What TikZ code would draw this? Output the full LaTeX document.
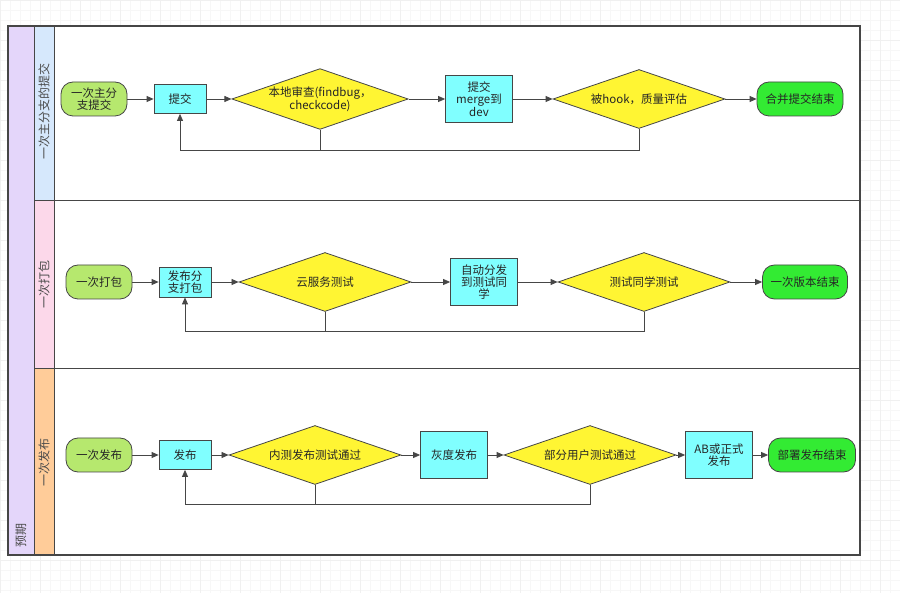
\documentclass[tikz,border=0pt]{standalone}
\usepackage{fontspec}
\setmainfont{Noto Sans CJK SC}
\usetikzlibrary{arrows.meta,shapes.geometric}
\definecolor{lanepurple}{RGB}{228,214,250}
\definecolor{laneblue}{RGB}{214,232,252}
\definecolor{lanepink}{RGB}{252,216,234}
\definecolor{laneorange}{RGB}{255,204,153}
\definecolor{startgreen}{RGB}{182,232,110}
\definecolor{endgreen}{RGB}{51,235,51}
\definecolor{proccyan}{RGB}{128,255,255}
\definecolor{decyellow}{RGB}{255,245,51}
\definecolor{linegray}{RGB}{70,70,70}
\begin{document}
\begin{tikzpicture}[x=1pt, y=-1pt, line join=miter,
                every node/.style={font=\fontsize{11.5}{12}\selectfont, text=black!85, align=center},
                startnode/.style={shape=rectangle, rounded corners=12pt, fill=startgreen, draw=linegray, line width=0.8pt, minimum width=66pt, minimum height=34pt, inner sep=1pt},
                endnode/.style={shape=rectangle, rounded corners=12pt, fill=endgreen, draw=linegray, line width=0.8pt, minimum height=34pt, inner sep=1pt},
                procnode/.style={shape=rectangle, fill=proccyan, draw=linegray, line width=0.8pt, inner sep=1pt},
                decnode/.style={shape=diamond, aspect=2.9, fill=decyellow, draw=linegray, line width=0.8pt, inner sep=0pt, minimum width=172pt, minimum height=59pt},
                flow/.style={draw=linegray, line width=0.8pt, -{Triangle[length=7pt,width=6pt]}},
                back/.style={draw=linegray, line width=0.8pt},
                lanetext/.style={rotate=90, font=\fontsize{12}{13}\selectfont, text=black!70}]
            \useasboundingbox (0,0) rectangle (900,593);
            % Grid
            \draw[black!3, line width=0.4pt] (0,0) grid[step=10pt] (900,593);
            \draw[black!6, line width=0.4pt] (0,0) grid[step=40pt] (900,593);
            % Lanes
            \filldraw[fill=white, draw=linegray, line width=1pt] (54,26) rectangle (860,555);
            \filldraw[fill=lanepurple, draw=linegray, line width=1pt] (8,26) rectangle (34,555);
            \filldraw[fill=laneblue, draw=linegray, line width=1pt] (34,26) rectangle (54,201);
            \filldraw[fill=lanepink, draw=linegray, line width=1pt] (34,201) rectangle (54,369);
            \filldraw[fill=laneorange, draw=linegray, line width=1pt] (34,369) rectangle (54,555);
            \draw[linegray, line width=1pt] (54,201) -- (860,201);
            \draw[linegray, line width=1pt] (54,369) -- (860,369);
            \draw[linegray, line width=1.6pt] (8,26) rectangle (860,555);
            \node[lanetext] (lanea) at (44,112) {一次主分支的提交};
            \node[lanetext] (laneb) at (44,285) {一次打包};
            \node[lanetext] (lanec) at (44,462) {一次发布};
            \node[lanetext] (laneall) at (21,535) {预期};

            % Lane 1
            \node[startnode] (sa) at (94,99) {一次主分\\支提交};
            \node[procnode, minimum width=52pt, minimum height=29pt] (pa) at (180,99) {提交};
            \node[decnode] (da) at (320,99) {本地审查(findbug，\\checkcode)};
            \node[procnode, minimum width=67pt, minimum height=47pt] (qa) at (479,99) {提交\\merge到\\dev};
            \node[decnode] (ea) at (639,99) {被hook，质量评估};
            \node[endnode, minimum width=86pt] (ta) at (800,99) {合并提交结束};
            \draw[flow] (sa) -- (pa);
            \draw[flow] (pa) -- (da);
            \draw[flow] (da) -- (qa);
            \draw[flow] (qa) -- (ea);
            \draw[flow] (ea) -- (ta);
            \draw[back] (da.south) -- (da.south |- 0,150);
            \draw[flow] (ea.south) -- (ea.south |- 0,150) -| (pa.south);

            % Lane 2
            \node[startnode] (sb) at (99,282) {一次打包};
            \node[procnode, minimum width=52pt, minimum height=30pt] (pb) at (185,282) {发布分\\支打包};
            \node[decnode] (db) at (325,282) {云服务测试};
            \node[procnode, minimum width=67pt, minimum height=47pt] (qb) at (484,282) {自动分发\\到测试同\\学};
            \node[decnode] (eb) at (644,282) {测试同学测试};
            \node[endnode, minimum width=85pt] (tb) at (805,282) {一次版本结束};
            \draw[flow] (sb) -- (pb);
            \draw[flow] (pb) -- (db);
            \draw[flow] (db) -- (qb);
            \draw[flow] (qb) -- (eb);
            \draw[flow] (eb) -- (tb);
            \draw[back] (db.south) -- (db.south |- 0,331);
            \draw[flow] (eb.south) -- (eb.south |- 0,331) -| (pb.south);

            % Lane 3
            \node[startnode] (sc) at (99,455) {一次发布};
            \node[procnode, minimum width=52pt, minimum height=29pt] (pc) at (185,455) {发布};
            \node[decnode] (dc) at (315,455) {内测发布测试通过};
            \node[procnode, minimum width=67pt, minimum height=47pt] (qc) at (454,455) {灰度发布};
            \node[decnode] (ec) at (590,455) {部分用户测试通过};
            \node[procnode, minimum width=67pt, minimum height=47pt] (rc) at (719,455) {AB或正式\\发布};
            \node[endnode, minimum width=87pt] (tc) at (812,455) {部署发布结束};
            \draw[flow] (sc) -- (pc);
            \draw[flow] (pc) -- (dc);
            \draw[flow] (dc) -- (qc);
            \draw[flow] (qc) -- (ec);
            \draw[flow] (ec) -- (rc);
            \draw[flow] (rc) -- (tc);
            \draw[back] (dc.south) -- (dc.south |- 0,504);
            \draw[flow] (ec.south) -- (ec.south |- 0,504) -| (pc.south);
\end{tikzpicture}
\end{document}
